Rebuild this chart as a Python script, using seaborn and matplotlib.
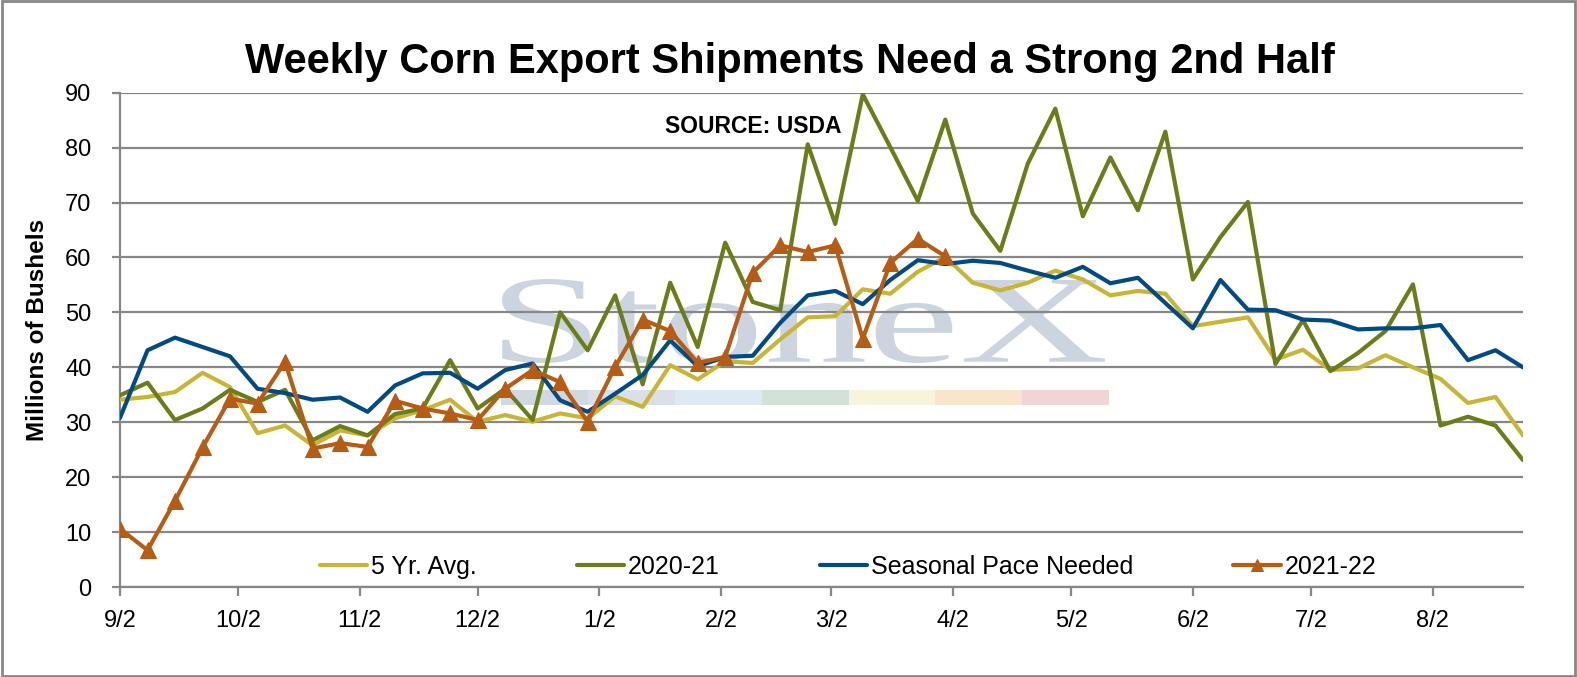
import numpy as np
import pandas as pd
import matplotlib
matplotlib.use('Agg')
import matplotlib.pyplot as plt
import matplotlib.dates as mdates
from matplotlib.patches import Rectangle, PathPatch
from matplotlib.textpath import TextPath
from matplotlib.font_manager import FontProperties
from matplotlib.transforms import Affine2D
import seaborn as sns

# weekly export shipments, million bushels
weeks = pd.date_range('2021-09-02', periods=52, freq='7D')

five_yr = [34.1, 34.6, 35.5, 39.0, 36.4, 28.0, 29.4, 25.8, 28.5, 27.6, 30.7, 32.2, 34.1,
           30.1, 31.3, 30.1, 31.6, 30.7, 34.7, 32.8, 40.4, 37.8, 41.1, 40.8, 45.1, 49.1,
           49.3, 54.2, 53.4, 57.4, 60.1, 55.4, 54.0, 55.4, 57.6, 56.0, 53.1, 53.9, 53.4,
           47.5, 48.3, 49.1, 41.4, 43.2, 39.5, 39.8, 42.2, 40.0, 37.9, 33.5, 34.6, 27.6]
y2020_21 = [34.9, 37.2, 30.4, 32.5, 35.9, 33.7, 35.9, 26.7, 29.3, 27.6, 31.5, 32.5, 41.3,
            32.5, 36.1, 30.4, 50.0, 43.1, 53.1, 36.9, 55.4, 43.7, 62.7, 51.9, 50.4, 80.6,
            66.1, 89.7, 80.1, 70.3, 85.1, 68.0, 61.2, 77.1, 87.1, 67.5, 78.2, 68.6, 82.9,
            56.0, 63.7, 70.1, 40.6, 48.6, 39.3, 42.6, 46.6, 55.1, 29.4, 31.0, 29.4, 23.1]
pace_needed = [30.8, 43.1, 45.4, 43.7, 42.0, 36.1, 35.3, 34.1, 34.5, 31.9, 36.7, 38.9, 39.0,
               36.1, 39.5, 40.7, 34.0, 31.9, 35.2, 38.6, 44.9, 40.2, 41.9, 42.1, 48.1, 53.1,
               53.9, 51.5, 55.9, 59.5, 58.8, 59.4, 59.0, 57.6, 56.3, 58.3, 55.3, 56.3, 51.7,
               47.1, 55.9, 50.5, 50.4, 48.7, 48.5, 46.9, 47.1, 47.1, 47.7, 41.3, 43.1, 40.0]
y2021_22 = [10.6, 6.7, 15.7, 25.4, 34.3, 33.4, 41.0, 25.2, 26.2, 25.5, 33.9, 32.5, 31.6,
            30.4, 36.1, 39.5, 37.3, 30.1, 40.1, 48.7, 46.6, 40.8, 41.9, 57.2, 62.2, 61.0,
            62.2, 45.2, 59.0, 63.4, 60.2]

month_ticks = pd.date_range('2021-09-02', periods=12, freq=pd.DateOffset(months=1))
y_ticks = [0, 10, 20, 30, 40, 50, 60, 70, 80, 90]

df = pd.DataFrame({'week': weeks, '5yr': five_yr, '2020-21': y2020_21, 'pace': pace_needed})
df_cur = pd.DataFrame({'week': weeks[:len(y2021_22)], '2021-22': y2021_22})

c_5yr = '#C8B536'
c_2021 = '#6B7D18'
c_pace = '#004B84'
c_cur = '#B65C14'
grid_c = '#878787'

sns.set_style('white')
plt.rcParams['font.family'] = ['Liberation Sans', 'DejaVu Sans']
plt.rcParams['text.color'] = 'black'
plt.rcParams['xtick.labelcolor'] = 'black'
plt.rcParams['ytick.labelcolor'] = 'black'
plt.rcParams['axes.labelcolor'] = 'black'

W, H = 1577, 677
fig = plt.figure(figsize=(W / 100, H / 100), dpi=100)
ax = fig.add_axes([120 / W, 1 - 587 / H, 1403 / W, 494.3 / H])
ax.patch.set_alpha(0)

# watermark logo behind everything
tp = TextPath((0, 0), 'StoneX', size=1, prop=FontProperties(family='Liberation Serif'))
bb = tp.get_extents()
x0, x1, ytop, ybase = 502, 1105, 279, 363
sx = (x1 - x0) / bb.width
sy = (ybase - ytop) / bb.height
tr = Affine2D().translate(-bb.x0, -bb.y0).scale(sx / W, sy / H).translate(x0 / W, 1 - ybase / H)
fig.patches.append(PathPatch(tr.transform_path(tp), transform=fig.transFigure,
                             facecolor='#ccd5df', edgecolor='none', zorder=-2))
bar_cols = ['#d0d8e1', '#dae0e8', '#dde9f3', '#d3e2d8', '#f6f5dc', '#f9e4cc', '#f1d4d6']
seg = 86.9
for i, bc in enumerate(bar_cols):
    fig.patches.append(Rectangle(((501 + i * seg) / W, 1 - 405 / H), seg / W, 15 / H,
                                 transform=fig.transFigure, facecolor=bc, edgecolor='none', zorder=-2))

sns.lineplot(data=df, x='week', y='5yr', ax=ax, color=c_5yr, lw=3, label='5 Yr. Avg.', zorder=3)
sns.lineplot(data=df, x='week', y='2020-21', ax=ax, color=c_2021, lw=3, label='2020-21', zorder=4)
sns.lineplot(data=df, x='week', y='pace', ax=ax, color=c_pace, lw=3, label='Seasonal Pace Needed', zorder=5)
sns.lineplot(data=df_cur, x='week', y='2021-22', ax=ax, color=c_cur, lw=3, marker='^',
             markersize=12, markeredgecolor=c_cur, label='2021-22', zorder=6)

ax.set_xlim(weeks[0], weeks[-1])
ax.set_ylim(0, 90)
ax.set_yticks(y_ticks)
ax.set_xticks(month_ticks)
ax.xaxis.set_major_formatter(mdates.DateFormatter('%-m/%-d'))
ax.yaxis.grid(True, color=grid_c, lw=1.6)
ax.xaxis.grid(False)
for s in ['top', 'right']:
    ax.spines[s].set_visible(False)
for s in ['left', 'bottom']:
    ax.spines[s].set_color(grid_c)
    ax.spines[s].set_linewidth(1.6)
ax.tick_params(axis='y', direction='out', length=5.5, width=1.6, color=grid_c, pad=15,
               labelsize=17, left=True, labelcolor='black')
ax.tick_params(axis='x', direction='out', length=6.5, width=1.6, color=grid_c, pad=10,
               labelsize=17, bottom=True, labelcolor='black')
ax.set_xlabel('')
ax.set_ylabel('Millions of Bushels', fontsize=17.5, fontweight='bold', color='black')
ax.yaxis.set_label_coords((49 - 120) / 1403, (587 - 330) / 494.3)

ax.text(0.451, 0.918, 'SOURCE: USDA', transform=ax.transAxes, ha='center', va='baseline',
        fontsize=16.5, fontweight='bold', color='black')
fig.text(790 / W, 1 - 73 / H, 'Weekly Corn Export Shipments Need a Strong 2nd Half',
         ha='center', va='baseline', fontsize=30, fontweight='bold', color='black')

leg = ax.legend(loc='center', bbox_to_anchor=(0.519, 0.04), ncol=4, frameon=False,
                fontsize=18, handlelength=1.9, handletextpad=0.15, columnspacing=4.0,
                borderaxespad=0)
for t in leg.get_texts():
    t.set_color('black')
for h in leg.legend_handles:
    h.set_markersize(8)

fig.patches.append(Rectangle((0.001, 0.002), 0.998, 0.996, transform=fig.transFigure,
                             fill=False, edgecolor=grid_c, lw=2))

fig.savefig('out.png', dpi=100)
